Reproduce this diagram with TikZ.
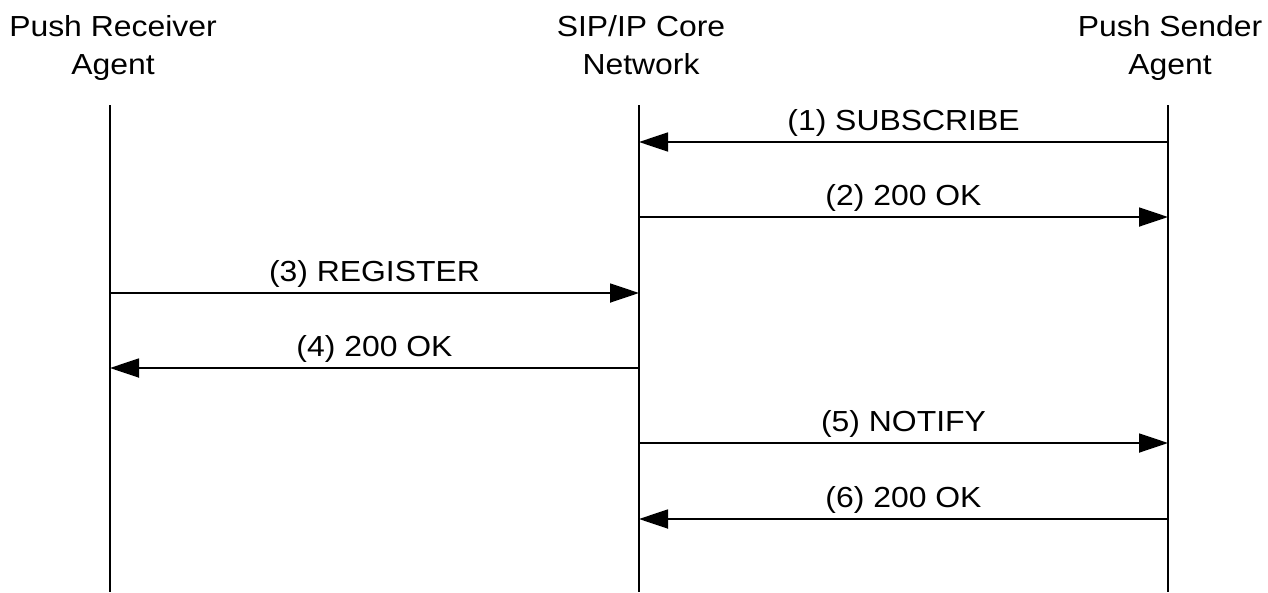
\documentclass[tikz,border=0pt]{standalone}
\usepackage{fontspec}
\setmainfont{Liberation Sans}[FakeStretch=1.1]
\usetikzlibrary{arrows.meta}
\begin{document}
\begin{tikzpicture}[x=1pt,y=-1pt,
  lifeline/.style={line width=1.8pt},
  msg/.style={line width=1.8pt,-{Triangle[length=29pt,width=19pt]}},
  head/.style={font=\fontsize{29}{38}\selectfont,align=center,inner sep=0pt,anchor=base},
  lbl/.style={font=\fontsize{29}{35}\selectfont,inner sep=0pt,anchor=base}]
\useasboundingbox (0,0) rectangle (1268,592);
% headers
\node[head] (hr) at (113,74) {Push Receiver\\Agent};
\node[head] (hc) at (641,74) {SIP/IP Core\\Network};
\node[head] (hs) at (1170,74) {Push Sender\\Agent};
% lifelines
\coordinate (rt) at (110,105); \coordinate (rb) at (110,592);
\coordinate (ct) at (639,105); \coordinate (cb) at (639,592);
\coordinate (st) at (1168,105); \coordinate (sb) at (1168,592);
\draw[lifeline] (rt) -- (rb);
\draw[lifeline] (ct) -- (cb);
\draw[lifeline] (st) -- (sb);
% message anchor points
\foreach \i/\y in {1/142,2/217,3/293,4/368,5/443,6/519}{
  \coordinate (r\i) at (110,\y);
  \coordinate (c\i) at (639,\y);
  \coordinate (s\i) at (1168,\y);
}
\draw[msg] (s1) -- (c1) node[lbl,midway,yshift=12pt] (l1) {(1) SUBSCRIBE};
\draw[msg] (c2) -- (s2) node[lbl,midway,yshift=12pt] (l2) {(2) 200 OK};
\draw[msg] (r3) -- (c3) node[lbl,midway,yshift=12pt] (l3) {(3) REGISTER};
\draw[msg] (c4) -- (r4) node[lbl,midway,yshift=12pt] (l4) {(4) 200 OK};
\draw[msg] (c5) -- (s5) node[lbl,midway,yshift=12pt] (l5) {(5) NOTIFY};
\draw[msg] (s6) -- (c6) node[lbl,midway,yshift=12pt] (l6) {(6) 200 OK};
\end{tikzpicture}
\end{document}
